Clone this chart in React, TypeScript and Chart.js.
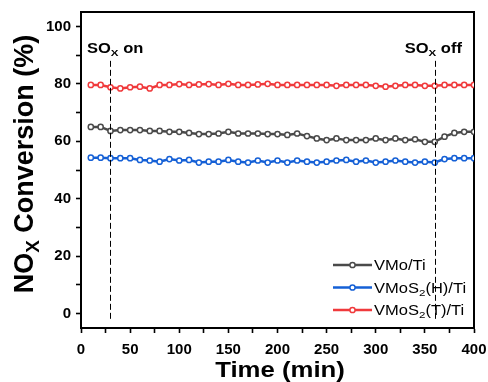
import React, { useEffect, useRef } from "react";
import { Chart, registerables } from "chart.js";

Chart.register(...registerables);

const times = [10, 20, 30, 40, 50, 60, 70, 80, 90, 100, 110, 120, 130, 140, 150, 160, 170, 180, 190, 200, 210, 220, 230, 240, 250, 260, 270, 280, 290, 300, 310, 320, 330, 340, 350, 360, 370, 380, 390, 400];

const vmoTi = [65.0, 65.0, 63.6, 63.9, 63.9, 63.9, 63.6, 63.6, 63.3, 63.3, 62.9, 62.5, 62.5, 62.7, 63.3, 62.7, 62.7, 62.7, 62.5, 62.5, 62.2, 62.7, 61.8, 61.0, 60.4, 61.0, 60.4, 60.4, 60.4, 61.0, 60.4, 61.0, 60.4, 60.7, 59.8, 59.8, 61.6, 62.9, 63.3, 63.3];

const vmos2H = [54.3, 54.3, 54.1, 54.1, 54.1, 53.5, 53.3, 52.9, 53.8, 53.3, 53.5, 52.6, 52.9, 52.9, 53.5, 52.9, 52.6, 53.3, 52.6, 53.3, 52.6, 53.3, 52.9, 52.6, 52.9, 53.3, 53.5, 52.9, 53.3, 52.6, 52.9, 53.3, 52.9, 52.6, 52.9, 52.6, 53.8, 54.1, 54.1, 54.1];

const vmos2T = [79.6, 79.6, 78.8, 78.4, 78.8, 79.0, 78.4, 79.6, 79.6, 79.9, 79.6, 79.8, 79.9, 79.6, 80.0, 79.6, 79.6, 79.8, 80.0, 79.6, 79.6, 79.6, 79.6, 79.6, 79.6, 79.3, 79.6, 79.6, 79.6, 79.3, 79.0, 79.3, 79.6, 79.6, 79.3, 79.3, 79.6, 79.6, 79.6, 79.6];

const xTicks = [0, 50, 100, 150, 200, 250, 300, 350, 400];
const xMinorTicks = [25, 75, 125, 175, 225, 275, 325, 375];
const yTicks = [0, 20, 40, 60, 80, 100];
const yMinorTicks = [10, 30, 50, 70, 90];

const soxOnTime = 30;
const soxOffTime = 360;

const seriesNames = ["VMo/Ti", "VMoS2(H)/Ti", "VMoS2(T)/Ti"];

type Part = { t: string; sub?: boolean };
const legendLabels: Part[][] = [
  [{ t: "VMo/Ti" }],
  [{ t: "VMoS" }, { t: "2", sub: true }, { t: "(H)/Ti" }],
  [{ t: "VMoS" }, { t: "2", sub: true }, { t: "(T)/Ti" }],
];
const soxOnLabel: Part[] = [{ t: "SO" }, { t: "X", sub: true }, { t: " on" }];
const soxOffLabel: Part[] = [{ t: "SO" }, { t: "X", sub: true }, { t: " off" }];
const yTitle: Part[] = [{ t: "NO" }, { t: "X", sub: true }, { t: " Conversion (%)" }];
const xTitle: Part[] = [{ t: "Time (min)" }];

const colors = ["#4a4a4a", "#1560d6", "#f03a3c"];
const FONT = "'Liberation Sans', Arial, sans-serif";

function drawRich(
  ctx: CanvasRenderingContext2D,
  parts: Part[],
  x: number,
  y: number,
  size: number,
  weight: string,
  align: "left" | "center",
  sx: number
) {
  ctx.save();
  ctx.translate(x, y);
  ctx.scale(sx, 1);
  const subSize = size * 0.7;
  const widths = parts.map((p) => {
    ctx.font = `${weight} ${p.sub ? subSize : size}px ${FONT}`;
    return ctx.measureText(p.t).width;
  });
  const total = widths.reduce((a, b) => a + b, 0);
  let cx = align === "center" ? -total / 2 : 0;
  ctx.textAlign = "left";
  ctx.textBaseline = "alphabetic";
  ctx.fillStyle = "#000";
  parts.forEach((p, i) => {
    ctx.font = `${weight} ${p.sub ? subSize : size}px ${FONT}`;
    ctx.fillText(p.t, cx, p.sub ? size * 0.22 : 0);
    cx += widths[i];
  });
  ctx.restore();
}

function line(ctx: CanvasRenderingContext2D, x0: number, y0: number, x1: number, y1: number) {
  ctx.moveTo(x0, y0);
  ctx.lineTo(x1, y1);
}

const decorPlugin = {
  id: "decor",
  afterDraw(chart: any) {
    const ctx: CanvasRenderingContext2D = chart.ctx;
    const xs = chart.scales.x;
    const ys = chart.scales.y;
    const L = xs.getPixelForValue(0);
    const T = ys.getPixelForValue(105);
    ctx.save();
    // dashed lines
    ctx.strokeStyle = "#000";
    ctx.lineWidth = 1;
    ctx.setLineDash([6, 3]);
    ctx.beginPath();
    [soxOnTime, soxOffTime].forEach((t) => {
      const px = Math.round(xs.getPixelForValue(t)) + 0.5;
      line(ctx, px, ys.getPixelForValue(88), px, ys.getPixelForValue(-2.5));
    });
    ctx.stroke();
    ctx.setLineDash([]);
    // SOx labels
    drawRich(ctx, soxOnLabel, L + 6, T + 41, 14, "bold", "left", 1.18);
    drawRich(ctx, soxOffLabel, xs.getPixelForValue(soxOffTime) - 30, T + 41, 14, "bold", "left", 1.18);
    // legend
    const rowY = [265, 287.5, 310];
    const lx0 = 333;
    const lx1 = 372;
    legendLabels.forEach((lab, i) => {
      const y = rowY[i];
      ctx.strokeStyle = colors[i];
      ctx.lineWidth = 2.5;
      ctx.beginPath();
      line(ctx, lx0, y, lx1, y);
      ctx.stroke();
      ctx.fillStyle = "#fff";
      ctx.lineWidth = 1.5;
      ctx.beginPath();
      ctx.arc((lx0 + lx1) / 2, y, 2.6, 0, Math.PI * 2);
      ctx.fill();
      ctx.stroke();
      drawRich(ctx, lab, lx1 + 2, y + 5, 14, "normal", "left", 1.18);
    });
    // axis titles
    drawRich(ctx, xTitle, 280, 377, 22, "bold", "center", 1.17);
    ctx.save();
    ctx.translate(33, 164);
    ctx.rotate(-Math.PI / 2);
    drawRich(ctx, yTitle, 0, 0, 27, "bold", "center", 1);
    ctx.restore();
    ctx.restore();
  },
};

export default function App() {
  const ref = useRef<HTMLCanvasElement | null>(null);
  useEffect(() => {
    if (!ref.current) return;
    const series = [vmoTi, vmos2H, vmos2T];
    const zeroPad = (s: any) => {
      s.paddingTop = 0;
      s.paddingBottom = 0;
      s.paddingLeft = 0;
      s.paddingRight = 0;
    };
    const tickGrid = {
      display: true,
      drawOnChartArea: false,
      drawTicks: true,
      tickLength: 5,
      tickWidth: 1.6,
      tickColor: "#000",
    };
    const frameBorder = { display: true, width: 2, color: "#000" };
    const chart = new Chart(ref.current, {
      type: "line",
      data: {
        datasets: series.map((s, i) => ({
          label: seriesNames[i],
          data: times.map((t, j) => ({ x: t, y: s[j] })),
          borderColor: colors[i],
          backgroundColor: "#ffffff",
          pointBackgroundColor: "#ffffff",
          pointBorderColor: colors[i],
          pointRadius: 2.6,
          pointBorderWidth: 1.5,
          borderWidth: 2.5,
          tension: 0,
          fill: false,
        })),
      },
      options: {
        animation: false,
        responsive: false,
        layout: { padding: { left: 0, right: 14, top: 12, bottom: 0 } },
        plugins: {
          legend: { display: false },
          tooltip: { enabled: false },
        },
        scales: {
          x: {
            type: "linear",
            position: "bottom",
            min: 0,
            max: 400,
            grid: tickGrid,
            border: frameBorder,
            afterBuildTicks: (s: any) => {
              s.ticks = [...xTicks, ...xMinorTicks].sort((a, b) => a - b).map((v) => ({ value: v }));
            },
            afterFit: (s: any) => {
              s.height = 54;
              zeroPad(s);
            },
            ticks: {
              autoSkip: false,
              maxRotation: 0,
              padding: 8,
              color: "#000",
              font: { family: FONT, size: 15, weight: "bold" },
              callback: (v: any) => (xTicks.includes(Number(v)) ? String(v) : ""),
            },
          },
          x2: {
            type: "linear",
            position: "top",
            display: true,
            min: 0,
            max: 400,
            grid: { display: false, drawTicks: false },
            border: frameBorder,
            ticks: { display: false },
            afterFit: (s: any) => {
              s.height = 0;
              zeroPad(s);
            },
          },
          y: {
            type: "linear",
            position: "left",
            min: -5,
            max: 105,
            grid: tickGrid,
            border: frameBorder,
            afterBuildTicks: (s: any) => {
              s.ticks = [...yTicks, ...yMinorTicks].sort((a, b) => a - b).map((v) => ({ value: v }));
            },
            afterFit: (s: any) => {
              s.width = 81;
              zeroPad(s);
            },
            ticks: {
              autoSkip: false,
              padding: 5,
              color: "#000",
              font: { family: FONT, size: 15, weight: "bold" },
              callback: (v: any) => (yTicks.includes(Number(v)) ? String(v) : ""),
            },
          },
          y2: {
            type: "linear",
            position: "right",
            display: true,
            min: -5,
            max: 105,
            grid: { display: false, drawTicks: false },
            border: frameBorder,
            ticks: { display: false },
            afterFit: (s: any) => {
              s.width = 0;
              zeroPad(s);
            },
          },
        },
      },
      plugins: [decorPlugin],
    } as any);
    return () => chart.destroy();
  }, []);
  return (
    <div style={{ position: "fixed", left: 0, top: 0, width: 488, height: 382, background: "#fff" }}>
      <canvas ref={ref} width={488} height={382} style={{ display: "block" }} />
    </div>
  );
}
